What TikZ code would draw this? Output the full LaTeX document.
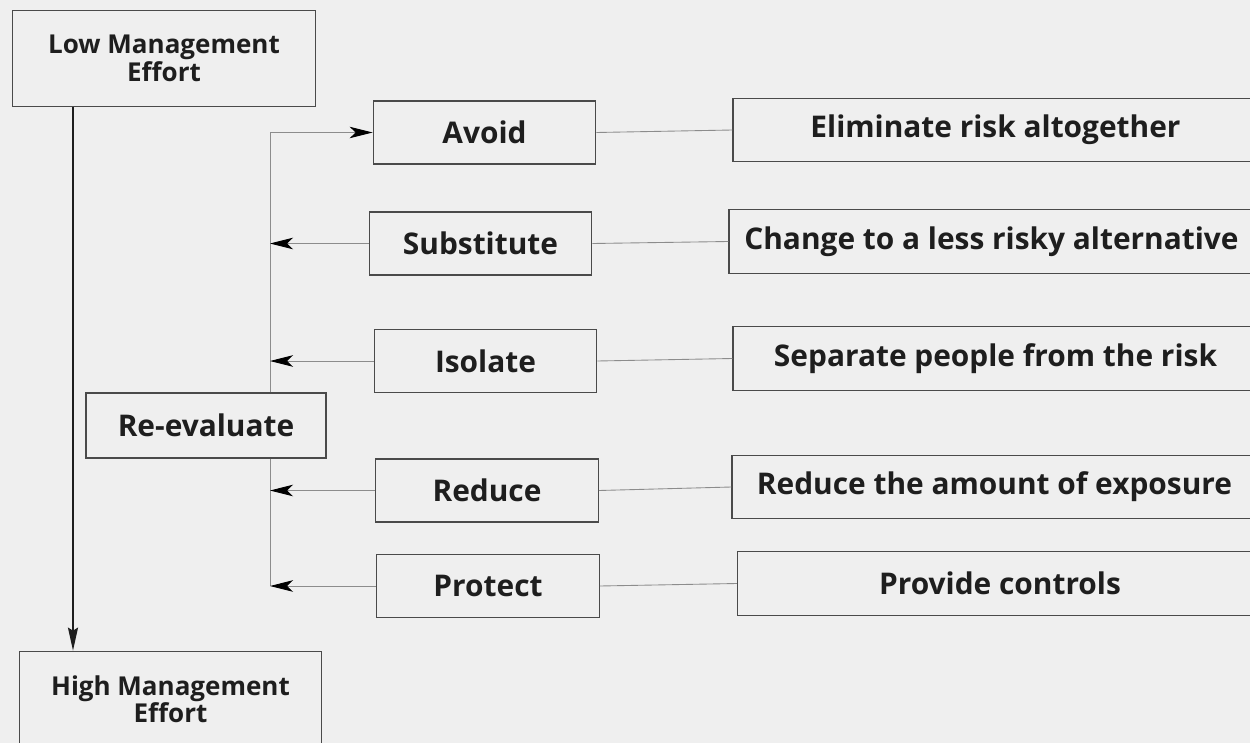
\documentclass[tikz,border=0pt]{standalone}
\usepackage{fontspec}
\setmainfont{Open Sans}
\usetikzlibrary{arrows.meta,positioning}

\definecolor{paper}{HTML}{EFEFEF}
\definecolor{ink}{HTML}{1E1E1E}
\definecolor{frame}{HTML}{4A4A4A}
\definecolor{wire}{HTML}{8C8C8C}

\begin{document}
\begin{tikzpicture}[x=0.02cm,
            y=-0.02cm,
            box/.style={draw=frame, line width=0.7pt, text=ink, inner sep=0pt,
                        font=\bfseries\fontsize{17}{20}\selectfont},
            optionbox/.style={box, minimum width=4.45cm, minimum height=1.26cm},
            actionbox/.style={box, minimum width=10.5cm, minimum height=1.27cm},
            effortbox/.style={box, minimum width=6.05cm, minimum height=1.91cm, align=center,
                        font=\bfseries\fontsize{14.8}{15.6}\selectfont},
            link/.style={draw=wire, line width=0.5pt},
            feed/.style={link, -{Stealth[black,length=0.46cm,width=0.23cm,inset=0.12cm]}},
            main/.style={draw=ink, line width=1.1pt, -{Stealth[length=0.46cm,width=0.2cm,inset=0.06cm]}}]

        \useasboundingbox (0,0) rectangle (1250,743);
        \fill[paper] (0,0) rectangle (1250,743);
        \clip (0,0) rectangle (1250,743);

        % effort scale
        \node[effortbox] (low)  at (164,58.5) {Low Management\\Effort};
        \node[effortbox] (high) at (170.5,699) {High Management\\Effort};
        \node[box, minimum width=4.8cm, minimum height=1.3cm] (reeval) at (206,425.5) {Re-evaluate};

        % hierarchy of controls
        \node[optionbox] (avoid)    at (484.5,132.5) {Avoid};
        \node[optionbox] (subst)    at (480.5,243.5) {Substitute};
        \node[optionbox] (isolate)  at (485.5,361)   {Isolate};
        \node[optionbox] (reduce)   at (487,490.5)   {Reduce};
        \node[optionbox] (protect)  at (488,586)     {Protect};

        \node[actionbox] (elim)     at (995.5,130)   {Eliminate risk altogether};
        \node[actionbox] (change)   at (991.5,241.5) {Change to a less risky alternative};
        \node[actionbox] (separate) at (995.5,358.5) {Separate people from the risk};
        \node[actionbox] (exposure) at (994.5,487)   {Reduce the amount of exposure};
        \node[actionbox] (controls) at (1000,583.5)  {Provide controls};

        \coordinate (axis)  at (73,0);
        \coordinate (spine) at (270,0);

        \draw[main] (low.south -| axis) -- (high.north -| axis);

        \draw[feed] (reeval.north -| spine) |- (avoid.west);
        \draw[link] (reeval.south -| spine) -- (protect.west -| spine);

        \path (subst.west)   edge[feed] (subst.west -| spine)
              (isolate.west) edge[feed] (isolate.west -| spine)
              (reduce.west)  edge[feed] (reduce.west -| spine)
              (protect.west) edge[feed] (protect.west -| spine);

        \path (avoid.east)   edge[link] (elim.west)
              (subst.east)   edge[link] (change.west)
              (isolate.east) edge[link] (separate.west)
              (reduce.east)  edge[link] (exposure.west)
              (protect.east) edge[link] (controls.west);

    \end{tikzpicture}
\end{document}
